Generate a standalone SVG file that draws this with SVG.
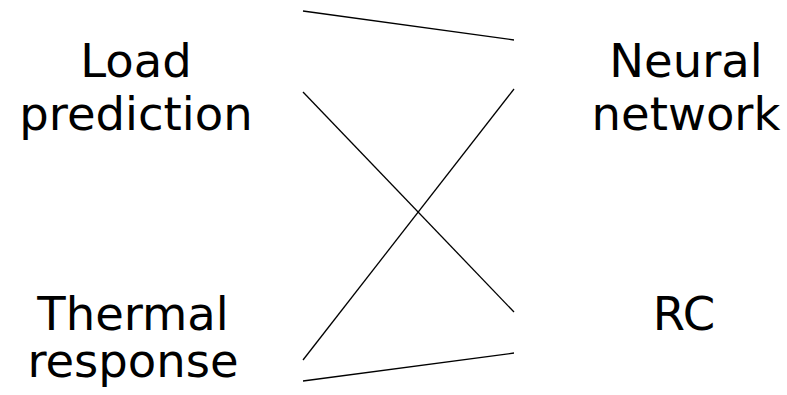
<svg xmlns="http://www.w3.org/2000/svg" width="787" height="395" viewBox="0 0 787 395">
<style>
text{font-family:"DejaVu Sans",sans-serif;font-size:46.5px;fill:#000;text-anchor:middle}
line{stroke:#000;stroke-width:1.3}
</style>
<rect width="787" height="395" fill="#fff"/>
<g id="connectors">
<line x1="303" y1="11" x2="514" y2="40"/>
<line x1="303" y1="92" x2="514" y2="312"/>
<line x1="303" y1="360" x2="514" y2="89"/>
<line x1="303" y1="381" x2="514" y2="353"/>
</g>
<g id="load"><text x="136" y="77">Load</text><text x="136" y="130">prediction</text></g>
<g id="neural"><text x="686" y="77">Neural</text><text x="686" y="130">network</text></g>
<g id="thermal"><text x="133" y="330">Thermal</text><text x="133" y="377">response</text></g>
<g id="rc"><text x="684" y="330">RC</text></g>
</svg>
